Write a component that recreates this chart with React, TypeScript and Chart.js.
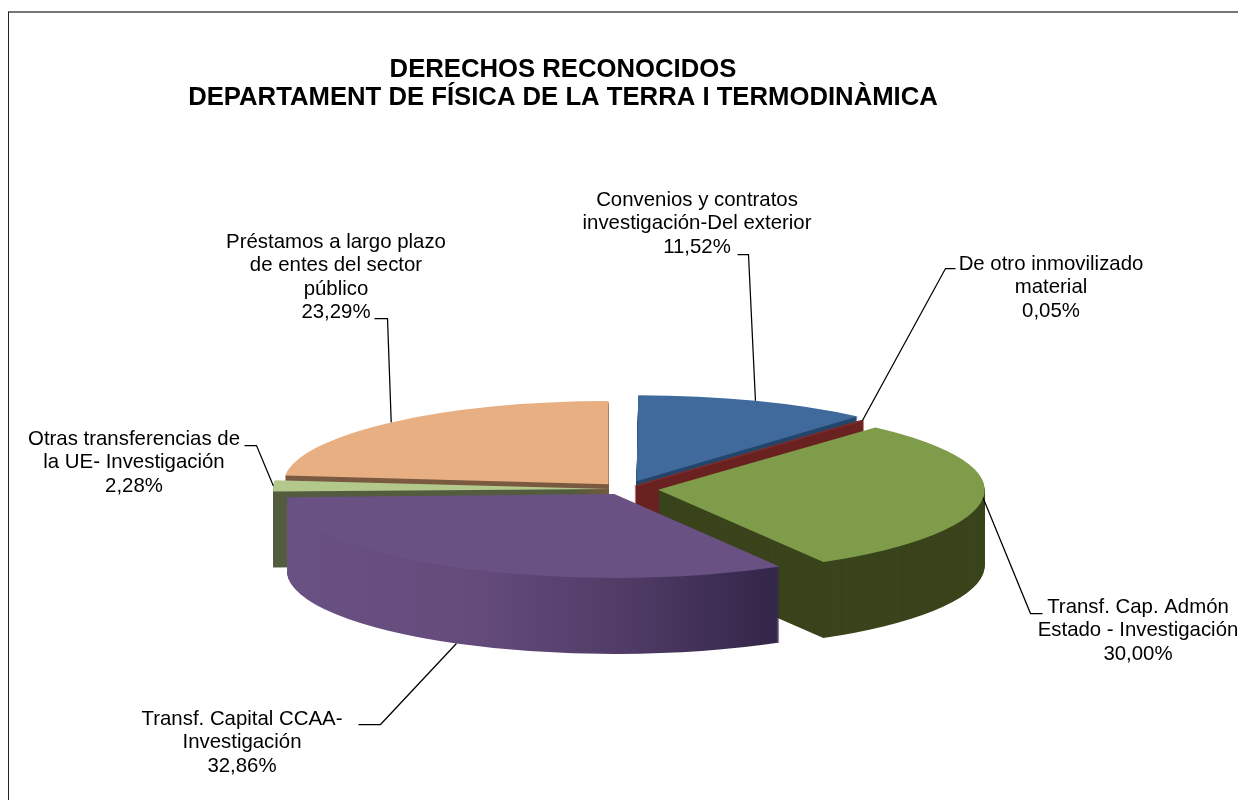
import React, { useEffect, useRef } from "react";
import { Chart, registerables } from "chart.js";

Chart.register(...registerables);

const titleLines = ["DERECHOS RECONOCIDOS", "DEPARTAMENT DE FÍSICA DE LA TERRA I TERMODINÀMICA"];
const categories = [
  "Convenios y contratos investigación-Del exterior",
  "De otro inmovilizado material",
  "Transf. Cap. Admón Estado - Investigación",
  "Transf. Capital CCAA- Investigación",
  "Otras transferencias de la UE- Investigación",
  "Préstamos a largo plazo de entes del sector público",
];
const values = [11.52, 0.05, 30.0, 32.86, 2.28, 23.29];
const percentLabels = ["11,52%", "0,05%", "30,00%", "32,86%", "2,28%", "23,29%"];
const labelLines = [
  ["Convenios y contratos", "investigación-Del exterior"],
  ["De otro inmovilizado", "material"],
  ["Transf. Cap. Admón", "Estado - Investigación"],
  ["Transf. Capital CCAA-", "Investigación"],
  ["Otras transferencias de", "la UE- Investigación"],
  ["Préstamos a largo plazo", "de entes del sector", "público"],
];
const topColors = ["#3F6A9B", "#7A2C2A", "#7F9C4A", "#695183", "#B3C98C", "#E8AF82"];
const wallColors = ["#25466B", "#6B2220", "#3A441C", "#695183", "#545C3F", "#7A5A41"];
const explode = [130, 66, 133, 89, 58, 99];
const sliverBorder = [0, 4, 0, 0, 0, 0];
const paintOrder = [5, 4, 0, 1, 2, 3];
const labelCenters = [
  [697, 200], [1051, 264], [1138, 607], [242, 719], [134, 439], [336, 242],
];
const leaderElbows = [
  [[748, 254], [737, 254]],
  [[945, 268], [955, 268]],
  [[1030, 613], [1042, 613]],
  [[380, 724], [358, 724]],
  [[256, 445], [244, 445]],
  [[387, 318], [374, 318]],
];

const TILT = 0.256;
const DEPTH = 76;
const LABEL_FONT = '20.4px "Liberation Sans", Arial, sans-serif';
const LINE_H = 23.6;

function arcShift(arc: any) {
  const c = arc.endAngle - arc.startAngle;
  return ((arc.options.offset || 0) / 4) * (2 - Math.sin(Math.min(Math.PI, c)));
}

function drawSquashed(ctx: any, arc: any, dy: number) {
  ctx.save();
  ctx.translate(0, arc.y + dy);
  ctx.scale(1, TILT);
  ctx.translate(0, -arc.y);
  arc.draw(ctx);
  ctx.restore();
}

const pie3d = {
  id: "pie3d",
  beforeDatasetDraw(chart: any) {
    const { ctx } = chart;
    const arcs = chart.getDatasetMeta(0).data;
    for (const i of paintOrder) {
      const arc = arcs[i];
      const base = arc.options;
      let wall: any = wallColors[i];
      if (i === 3) {
        const s = arcShift(arc);
        const mid = (arc.startAngle + arc.endAngle) / 2;
        const cx = arc.x + Math.cos(mid) * s;
        const g = ctx.createLinearGradient(cx - arc.outerRadius, 0, cx + arc.outerRadius * Math.cos(arc.startAngle), 0);
        g.addColorStop(0, "#6A5183");
        g.addColorStop(0.4, "#644B7C");
        g.addColorStop(0.7, "#513C67");
        g.addColorStop(1, "#35274A");
        wall = g;
      }
      arc.options = { ...base, backgroundColor: wall, borderColor: wall };
      for (let d = DEPTH; d >= 1; d--) drawSquashed(ctx, arc, d);
      arc.options = base;
      drawSquashed(ctx, arc, 0);
    }
    return false;
  },
};

const annotations = {
  id: "annotations",
  beforeDraw(chart: any) {
    const { ctx } = chart;
    ctx.save();
    ctx.strokeStyle = "#777777";
    ctx.lineWidth = 2;
    ctx.beginPath();
    ctx.moveTo(8, 12);
    ctx.lineTo(1238, 12);
    ctx.stroke();
    ctx.strokeStyle = "#222222";
    ctx.lineWidth = 1;
    ctx.beginPath();
    ctx.moveTo(8.5, 12);
    ctx.lineTo(8.5, 800);
    ctx.stroke();
    ctx.restore();
  },
  afterLayout(chart: any) {
    chart.titleBlock.left -= 62;
    chart.titleBlock.right -= 62;
  },
  afterDraw(chart: any) {
    const { ctx } = chart;
    const arcs = chart.getDatasetMeta(0).data;
    ctx.save();
    ctx.font = LABEL_FONT;
    ctx.fillStyle = "#000000";
    ctx.textAlign = "center";
    ctx.textBaseline = "middle";
    ctx.strokeStyle = "#000000";
    ctx.lineWidth = 1.25;
    arcs.forEach((arc: any, i: number) => {
      const [lx, ly] = labelCenters[i];
      [...labelLines[i], percentLabels[i]].forEach((t, n) => ctx.fillText(t, lx, ly + n * LINE_H));
      const mid = (arc.startAngle + arc.endAngle) / 2;
      const r = arc.outerRadius + arcShift(arc);
      const ax = arc.x + Math.cos(mid) * r;
      const ay = arc.y + Math.sin(mid) * r * TILT + (i === 3 ? DEPTH : 0);
      ctx.beginPath();
      ctx.moveTo(ax, ay);
      leaderElbows[i].forEach(([x, y]) => ctx.lineTo(x + 0.5, y + 0.5));
      ctx.stroke();
    });
    ctx.restore();
  },
};

export default function App() {
  const ref = useRef<HTMLCanvasElement | null>(null);
  useEffect(() => {
    const chart = new Chart(ref.current as any, {
      type: "pie",
      data: {
        labels: categories,
        datasets: [
          {
            data: values,
            backgroundColor: topColors,
            borderColor: topColors,
            borderWidth: sliverBorder,
            offset: explode,
            clip: false,
          } as any,
        ],
      },
      options: {
        responsive: false,
        animation: false,
        events: [],
        radius: 325,
        layout: { padding: { left: 12, right: 0, top: 0, bottom: 40 } },
        plugins: {
          legend: { display: false },
          tooltip: { enabled: false },
          title: {
            display: true,
            text: titleLines,
            color: "#000000",
            font: { family: '"Liberation Sans", Arial, sans-serif', size: 25.7, weight: "bold", lineHeight: 1.11 },
            padding: { top: 55.5, bottom: 105.5 },
          },
        },
      } as any,
      plugins: [pie3d, annotations],
    });
    return () => chart.destroy();
  }, []);
  return (
    <canvas
      ref={ref}
      width={1238}
      height={800}
      style={{ position: "fixed", left: 0, top: 0, display: "block" }}
    />
  );
}
